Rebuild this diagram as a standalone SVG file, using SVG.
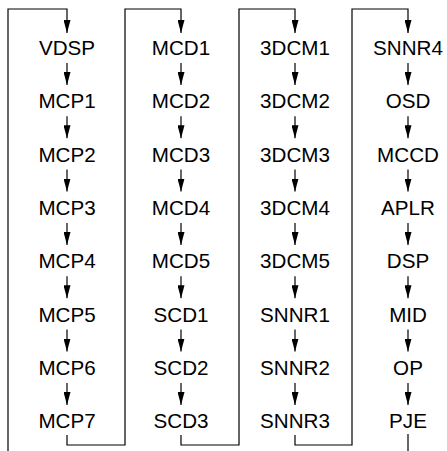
<svg xmlns="http://www.w3.org/2000/svg" width="447" height="451" viewBox="0 0 447 451">
<style>
.t{font-family:"Liberation Sans",Arial,sans-serif;font-size:20.6px;fill:#000;text-anchor:middle}
.c{fill:none;stroke:#000;stroke-width:1.2}
.a{marker-end:url(#ah)}
</style>
<defs>
<marker id="ah" viewBox="0 0 13 7" refX="13" refY="3.5" markerWidth="13" markerHeight="7" markerUnits="userSpaceOnUse" orient="auto">
<path d="M0,0 L13,3.5 L0,7 z" fill="#000"/>
</marker>
</defs>
<rect width="447" height="451" fill="#fff"/>
<g id="connectors">
<path class="c a" d="M8,451 V9 H67 V33"/>
<path class="c a" d="M67,435 V445 H125 V9 H181 V33"/>
<path class="c a" d="M181,435 V445 H239 V9 H295 V33"/>
<path class="c a" d="M295,435 V445 H352 V9 H408 V33"/>
<path class="c" d="M408,434 V451"/>
<path class="c a" d="M67,63 V85"/>
<path class="c a" d="M67,116.3 V138.3"/>
<path class="c a" d="M67,169.6 V191.6"/>
<path class="c a" d="M67,223 V245"/>
<path class="c a" d="M67,276.3 V298.3"/>
<path class="c a" d="M67,329.6 V351.6"/>
<path class="c a" d="M67,383 V405"/>
<path class="c a" d="M181,63 V85"/>
<path class="c a" d="M181,116.3 V138.3"/>
<path class="c a" d="M181,169.6 V191.6"/>
<path class="c a" d="M181,223 V245"/>
<path class="c a" d="M181,276.3 V298.3"/>
<path class="c a" d="M181,329.6 V351.6"/>
<path class="c a" d="M181,383 V405"/>
<path class="c a" d="M295,63 V85"/>
<path class="c a" d="M295,116.3 V138.3"/>
<path class="c a" d="M295,169.6 V191.6"/>
<path class="c a" d="M295,223 V245"/>
<path class="c a" d="M295,276.3 V298.3"/>
<path class="c a" d="M295,329.6 V351.6"/>
<path class="c a" d="M295,383 V405"/>
<path class="c a" d="M408,63 V85"/>
<path class="c a" d="M408,116.3 V138.3"/>
<path class="c a" d="M408,169.6 V191.6"/>
<path class="c a" d="M408,223 V245"/>
<path class="c a" d="M408,276.3 V298.3"/>
<path class="c a" d="M408,329.6 V351.6"/>
<path class="c a" d="M408,383 V405"/>
</g>
<g id="n-VDSP"><text class="t" x="67" y="55">VDSP</text></g>
<g id="n-MCP1"><text class="t" x="67" y="108.3">MCP1</text></g>
<g id="n-MCP2"><text class="t" x="67" y="161.6">MCP2</text></g>
<g id="n-MCP3"><text class="t" x="67" y="215">MCP3</text></g>
<g id="n-MCP4"><text class="t" x="67" y="268.3">MCP4</text></g>
<g id="n-MCP5"><text class="t" x="67" y="321.6">MCP5</text></g>
<g id="n-MCP6"><text class="t" x="67" y="375">MCP6</text></g>
<g id="n-MCP7"><text class="t" x="67" y="428">MCP7</text></g>
<g id="n-MCD1"><text class="t" x="181" y="55">MCD1</text></g>
<g id="n-MCD2"><text class="t" x="181" y="108.3">MCD2</text></g>
<g id="n-MCD3"><text class="t" x="181" y="161.6">MCD3</text></g>
<g id="n-MCD4"><text class="t" x="181" y="215">MCD4</text></g>
<g id="n-MCD5"><text class="t" x="181" y="268.3">MCD5</text></g>
<g id="n-SCD1"><text class="t" x="181" y="321.6">SCD1</text></g>
<g id="n-SCD2"><text class="t" x="181" y="375">SCD2</text></g>
<g id="n-SCD3"><text class="t" x="181" y="428">SCD3</text></g>
<g id="n-3DCM1"><text class="t" x="295" y="55">3DCM1</text></g>
<g id="n-3DCM2"><text class="t" x="295" y="108.3">3DCM2</text></g>
<g id="n-3DCM3"><text class="t" x="295" y="161.6">3DCM3</text></g>
<g id="n-3DCM4"><text class="t" x="295" y="215">3DCM4</text></g>
<g id="n-3DCM5"><text class="t" x="295" y="268.3">3DCM5</text></g>
<g id="n-SNNR1"><text class="t" x="295" y="321.6">SNNR1</text></g>
<g id="n-SNNR2"><text class="t" x="295" y="375">SNNR2</text></g>
<g id="n-SNNR3"><text class="t" x="295" y="428">SNNR3</text></g>
<g id="n-SNNR4"><text class="t" x="408" y="55">SNNR4</text></g>
<g id="n-OSD"><text class="t" x="408" y="108.3">OSD</text></g>
<g id="n-MCCD"><text class="t" x="408" y="161.6">MCCD</text></g>
<g id="n-APLR"><text class="t" x="408" y="215">APLR</text></g>
<g id="n-DSP"><text class="t" x="408" y="268.3">DSP</text></g>
<g id="n-MID"><text class="t" x="408" y="321.6">MID</text></g>
<g id="n-OP"><text class="t" x="408" y="375">OP</text></g>
<g id="n-PJE"><text class="t" x="408" y="428">PJE</text></g>
</svg>
